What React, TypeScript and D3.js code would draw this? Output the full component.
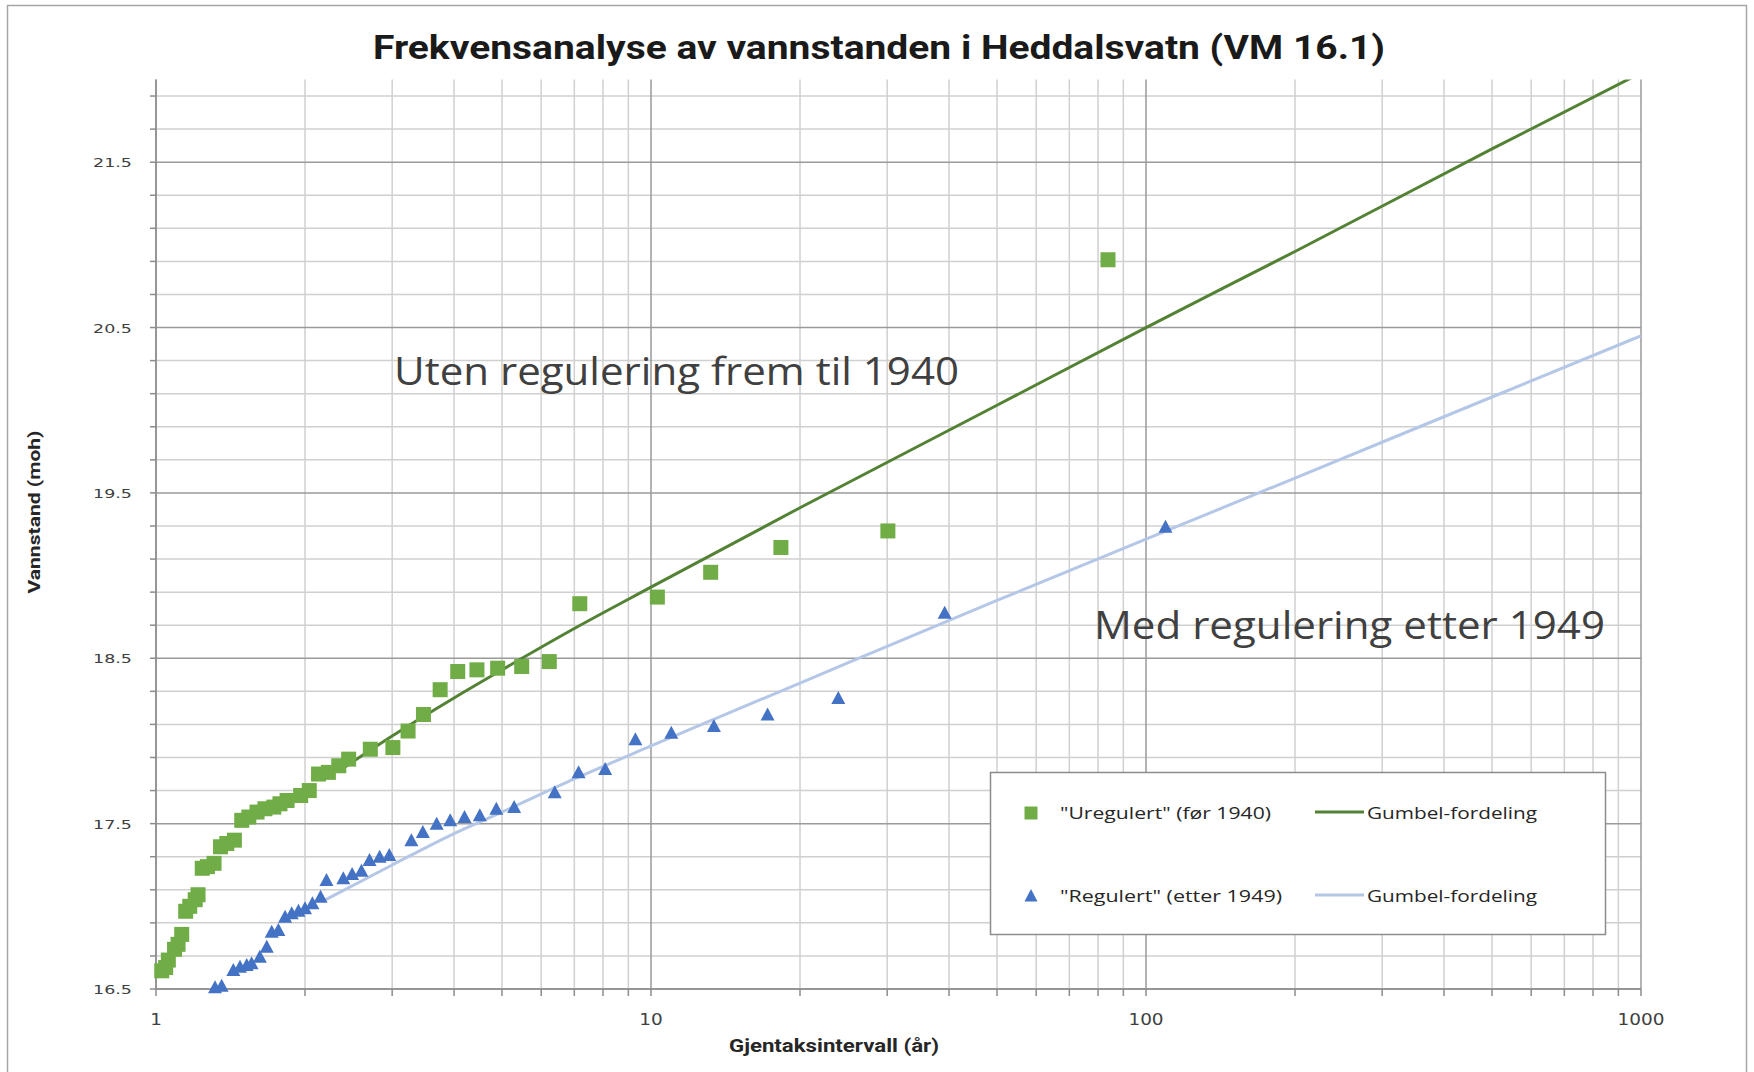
import React from "react";
import * as d3 from "d3";

// ---- Data ----
const uregPoints: [number, number][] = [
  [1.027, 16.61], [1.046, 16.63], [1.059, 16.675], [1.09, 16.74], [1.108, 16.77],
  [1.127, 16.83], [1.148, 16.97], [1.17, 17.0], [1.2, 17.04], [1.216, 17.07],
  [1.24, 17.23], [1.27, 17.24], [1.31, 17.26], [1.35, 17.36], [1.39, 17.38],
  [1.44, 17.4], [1.49, 17.52], [1.54, 17.54], [1.6, 17.57], [1.66, 17.59],
  [1.73, 17.6], [1.78, 17.62], [1.84, 17.64], [1.96, 17.67], [2.04, 17.7],
  [2.13, 17.8], [2.23, 17.81], [2.34, 17.85], [2.45, 17.89], [2.71, 17.95],
  [3.01, 17.96], [3.23, 18.06], [3.47, 18.16], [3.75, 18.31], [4.07, 18.42],
  [4.45, 18.43], [4.9, 18.44], [5.48, 18.45], [6.23, 18.48], [7.18, 18.83],
  [10.3, 18.87], [13.2, 19.02], [18.3, 19.17], [30.1, 19.27], [83.8, 20.91],
];

const regPoints: [number, number][] = [
  [1.316, 16.51], [1.357, 16.52], [1.433, 16.615], [1.478, 16.635], [1.525, 16.645],
  [1.56, 16.655], [1.621, 16.695], [1.674, 16.756], [1.713, 16.846], [1.767, 16.857],
  [1.823, 16.937], [1.88, 16.958], [1.94, 16.973], [2.0, 16.988], [2.07, 17.018],
  [2.15, 17.058], [2.21, 17.159], [2.39, 17.169], [2.49, 17.195], [2.6, 17.215],
  [2.7, 17.28], [2.83, 17.3], [2.96, 17.31], [3.28, 17.4], [3.46, 17.45],
  [3.69, 17.5], [3.93, 17.52], [4.2, 17.54], [4.51, 17.55], [4.87, 17.59],
  [5.29, 17.6], [6.39, 17.69], [7.14, 17.81], [8.08, 17.83], [9.3, 18.01],
  [10.99, 18.05], [13.4, 18.09], [17.2, 18.16], [23.9, 18.26], [39.2, 18.775],
  [109.5, 19.295],
];

const gumbelUregT = [2.4, 3, 4, 5, 7, 10, 20, 50, 100, 200, 500, 1000];
const gumbelUregV = [17.84, 18.03, 18.26, 18.43, 18.68, 18.93, 19.41, 20.03, 20.5, 20.96, 21.58, 22.04];
const gumbelRegT = [2.2, 3, 4, 5, 7, 10, 20, 50, 100, 200, 500, 1000];
const gumbelRegV = [17.04, 17.25, 17.44, 17.57, 17.77, 17.97, 18.35, 18.85, 19.22, 19.59, 20.08, 20.45];

const xTickLabels = ["1", "10", "100", "1000"];
const xTickValues = [1, 10, 100, 1000];
const yMajorTicks = [16.5, 17.5, 18.5, 19.5, 20.5, 21.5];

const TITLE = "Frekvensanalyse av vannstanden i Heddalsvatn (VM 16.1)";
const X_TITLE = "Gjentaksintervall (år)";
const Y_TITLE = "Vannstand (moh)";
const NOTE_1 = "Uten regulering frem til 1940";
const NOTE_2 = "Med regulering etter 1949";
const LEG_1 = "\"Uregulert\" (før 1940)";
const LEG_2 = "\"Regulert\" (etter 1949)";
const LEG_LINE = "Gumbel-fordeling";

const GREEN = "#70ad47";
const GREEN_LINE = "#548235";
const BLUE = "#4472c4";
const BLUE_LINE = "#b4c7e7";

const W = 1754;
const H = 1072;
const L = 156, R = 1641, T = 79.5, B = 989;

export default function App() {
  const x = d3.scaleLog().domain([1, 1000]).range([L, R]);
  const y = d3.scaleLinear().domain([16.5, 22]).range([B, T]);

  const minorX: number[] = [];
  for (let k = 0; k < 3; k++) {
    for (let m = 2; m <= 9; m++) minorX.push(m * Math.pow(10, k));
  }
  const minorY: number[] = [];
  for (let i = 1; i <= 27; i++) {
    const v = +(16.5 + i * 0.2).toFixed(2);
    if (Math.abs(((v - 16.5) % 1)) > 1e-6 && Math.abs(((v - 16.5) % 1) - 1) > 1e-6) minorY.push(v);
  }

  const line = d3
    .line<[number, number]>()
    .x((d) => x(d[0]))
    .y((d) => y(d[1]))
    .curve(d3.curveMonotoneX);

  const greenLine = line(gumbelUregT.map((t, i) => [t, gumbelUregV[i]] as [number, number]));
  const blueLine = line(gumbelRegT.map((t, i) => [t, gumbelRegV[i]] as [number, number]));

  const sq = 15;
  const triW = 14, triH = 12;
  const triPath = (cx: number, cy: number) =>
    `M${cx},${cy - triH / 2 - 1}L${cx + triW / 2},${cy + triH / 2}L${cx - triW / 2},${cy + triH / 2}Z`;

  const visible = (d: [number, number]) => d[1] >= 16.5 && d[1] <= 22;

  const tickFont = "'DejaVu Sans', Verdana, sans-serif";
  const textFont = "'Open Sans', 'Noto Sans', sans-serif";
  const boldNarrow = "'Liberation Sans Narrow', 'Roboto', 'Liberation Sans', sans-serif";

  return (
    <svg
      width={W}
      height={H}
      style={{ position: "absolute", left: 0, top: 0, background: "#fff" }}
    >
      <defs>
        <clipPath id="plotClip">
          <rect x={L} y={T} width={R - L} height={B - T} />
        </clipPath>
      </defs>
      <rect x={0} y={0} width={W} height={H} fill="#fff" />
      <rect x={7.5} y={5.5} width={1739} height={1100} fill="#fff" stroke="#a6a6a6" strokeWidth={1.5} />

      {/* minor gridlines */}
      <g stroke="#d0d0d0" strokeWidth={1.5}>
        {minorX.map((v) => (
          <line key={"mx" + v} x1={x(v)} x2={x(v)} y1={T} y2={B} />
        ))}
        {minorY.map((v) => (
          <line key={"my" + v} x1={L} x2={R} y1={y(v)} y2={y(v)} />
        ))}
      </g>
      {/* major gridlines */}
      <g stroke="#9a9a9a" strokeWidth={1.5}>
        {xTickValues.map((v) => (
          <line key={"Mx" + v} x1={x(v)} x2={x(v)} y1={T} y2={B} />
        ))}
        {yMajorTicks.map((v) => (
          <line key={"My" + v} x1={L} x2={R} y1={y(v)} y2={y(v)} />
        ))}
      </g>

      {/* axes and ticks */}
      <g stroke="#8c8c8c" strokeWidth={1.5}>
        <line x1={L} x2={L} y1={T} y2={B + 1} />
        <line x1={L} x2={R} y1={B} y2={B} />
        {[...minorY, ...yMajorTicks].map((v) => (
          <line key={"ty" + v} x1={L - 6} x2={L} y1={y(v)} y2={y(v)} />
        ))}
        {[...minorX, ...xTickValues].map((v) => (
          <line key={"tx" + v} x1={x(v)} x2={x(v)} y1={B} y2={B + 7} />
        ))}
      </g>

      {/* tick labels */}
      {yMajorTicks.map((v) => (
        <g key={"yl" + v} transform={`translate(${L - 24},${y(v) + 5}) scale(1.4,1)`}>
          <text textAnchor="end" fontFamily={tickFont} fontSize={12.5} fill="#404040">
            {v.toFixed(1)}
          </text>
        </g>
      ))}
      {xTickValues.map((v, i) => (
        <g key={"xl" + v} transform={`translate(${x(v)},${B + 36}) scale(1.12,1)`}>
          <text textAnchor="middle" fontFamily={tickFont} fontSize={16.5} fill="#404040">
            {xTickLabels[i]}
          </text>
        </g>
      ))}

      {/* axis titles */}
      <text
        x={834}
        y={1052}
        textAnchor="middle"
        fontFamily={boldNarrow}
        fontWeight="bold"
        fontSize={18}
        fill="#262626"
        textLength={210}
        lengthAdjust="spacingAndGlyphs"
      >
        {X_TITLE}
      </text>
      <text
        transform={`translate(40,512) rotate(-90)`}
        textAnchor="middle"
        fontFamily={boldNarrow}
        fontWeight="bold"
        fontSize={17}
        fill="#262626"
        textLength={163}
        lengthAdjust="spacingAndGlyphs"
      >
        {Y_TITLE}
      </text>

      {/* title */}
      <text
        x={879}
        y={59}
        textAnchor="middle"
        fontFamily={boldNarrow}
        fontWeight="bold"
        fontSize={34}
        fill="#1a1a1a"
        textLength={1012}
        lengthAdjust="spacingAndGlyphs"
      >
        {TITLE}
      </text>

      {/* Gumbel lines */}
      <g clipPath="url(#plotClip)" fill="none" strokeWidth={3}>
        <path d={blueLine || ""} stroke={BLUE_LINE} />
        <path d={greenLine || ""} stroke={GREEN_LINE} />
      </g>

      {/* markers */}
      <g fill={BLUE}>
        {regPoints.filter(visible).map((d, i) => (
          <path key={"r" + i} d={triPath(x(d[0]), y(d[1]))} />
        ))}
      </g>
      <g fill={GREEN}>
        {uregPoints.filter(visible).map((d, i) => (
          <rect key={"u" + i} x={x(d[0]) - sq / 2} y={y(d[1]) - sq / 2} width={sq} height={sq} />
        ))}
      </g>

      {/* annotations */}
      <text
        x={394}
        y={385}
        fontFamily={textFont}
        fontSize={39}
        fill="#404040"
        textLength={565}
        lengthAdjust="spacingAndGlyphs"
      >
        {NOTE_1}
      </text>
      <text
        x={1094}
        y={639}
        fontFamily={textFont}
        fontSize={39}
        fill="#404040"
        textLength={511}
        lengthAdjust="spacingAndGlyphs"
      >
        {NOTE_2}
      </text>

      {/* legend */}
      <g>
        <rect x={990.5} y={772.5} width={615} height={162} fill="#fff" stroke="#8c8c8c" strokeWidth={1.5} />
        <rect x={1031 - 6.5} y={813 - 6.5} width={13} height={13} fill={GREEN} />
        <path d={`M1031,${896 - 7}L1037.5,${896 + 5.5}L1024.5,${896 + 5.5}Z`} fill={BLUE} />
        <text x={1060} y={819} fontFamily={textFont} fontSize={17} fill="#262626" textLength={211} lengthAdjust="spacingAndGlyphs">
          {LEG_1}
        </text>
        <text x={1060} y={902} fontFamily={textFont} fontSize={17} fill="#262626" textLength={222} lengthAdjust="spacingAndGlyphs">
          {LEG_2}
        </text>
        <line x1={1315} x2={1364} y1={812} y2={812} stroke={GREEN_LINE} strokeWidth={3} />
        <line x1={1315} x2={1364} y1={895} y2={895} stroke={BLUE_LINE} strokeWidth={3} />
        <text x={1367} y={819} fontFamily={textFont} fontSize={17} fill="#262626" textLength={170} lengthAdjust="spacingAndGlyphs">
          {LEG_LINE}
        </text>
        <text x={1367} y={902} fontFamily={textFont} fontSize={17} fill="#262626" textLength={170} lengthAdjust="spacingAndGlyphs">
          {LEG_LINE}
        </text>
      </g>
    </svg>
  );
}
